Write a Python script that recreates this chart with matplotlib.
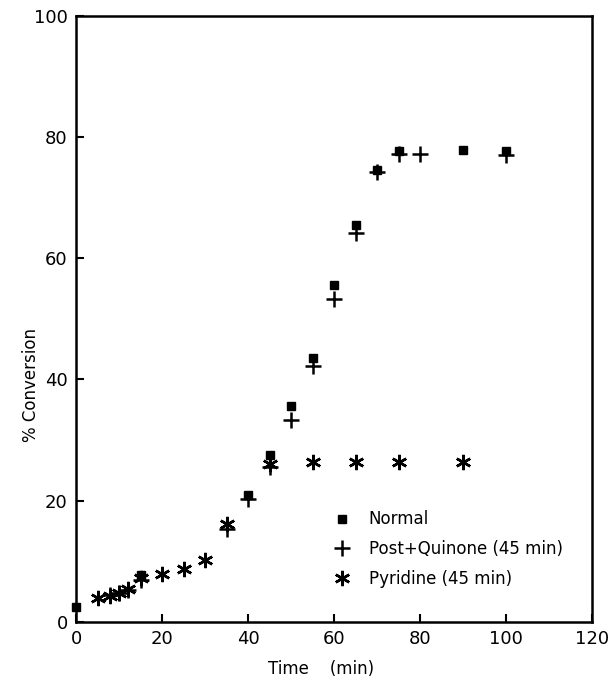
import numpy as np
import matplotlib
matplotlib.use("Agg")
import matplotlib.pyplot as plt

# data (time in min, % conversion)
normal_t = [0, 15, 40, 45, 50, 55, 60, 65, 70, 75, 90, 100]
normal_y = [2.5, 7.8, 21.0, 27.5, 35.7, 43.6, 55.6, 65.5, 74.5, 77.7, 77.8, 77.7]

quinone_t = [8, 10, 12, 15, 35, 40, 45, 50, 55, 60, 65, 70, 75, 80, 100]
quinone_y = [4.5, 4.8, 5.3, 7.0, 15.3, 20.3, 25.5, 33.3, 42.2, 53.2, 64.1, 74.2, 77.1, 77.1, 77.0]

pyridine_t = [5, 8, 10, 12, 15, 20, 25, 30, 35, 45, 55, 65, 75, 90]
pyridine_y = [4.0, 4.3, 4.8, 5.5, 7.3, 7.9, 8.8, 10.2, 16.1, 26.0, 26.4, 26.4, 26.4, 26.4]

x_ticks = [0, 20, 40, 60, 80, 100, 120]
y_ticks = [0, 20, 40, 60, 80, 100]

fig = plt.figure(figsize=(6.1, 6.81), dpi=100)
ax = fig.add_axes([0.1246, 0.0866, 0.8459, 0.8906])

ax.plot(normal_t, normal_y, linestyle="none", marker="s", markersize=5.5,
        color="black", label="Normal", clip_on=False, zorder=3)
ax.plot(quinone_t, quinone_y, linestyle="none", marker="+", markersize=12,
        markeredgewidth=1.8, color="black", label="Post+Quinone (45 min)")
ax.plot(pyridine_t, pyridine_y, linestyle="none", marker=(6, 2, 0), markersize=11,
        markeredgewidth=1.8, color="black", label="Pyridine (45 min)")

ax.set_xlim(0, 120)
ax.set_ylim(0, 100)
ax.set_xticks(x_ticks)
ax.set_yticks(y_ticks)
ax.tick_params(direction="in", length=6, width=1.5, labelsize=13, pad=6)
for s in ax.spines.values():
    s.set_linewidth(1.8)

ax.set_xlabel("Time    (min)", fontsize=12)
ax.set_ylabel("% Conversion", fontsize=12)
ax.xaxis.set_label_coords(0.475, -0.062)
ax.yaxis.set_label_coords(-0.07, 0.39)

ax.legend(loc="upper left", bbox_to_anchor=(0.47, 0.195), frameon=False,
          fontsize=12, handletextpad=0.6, labelspacing=0.7, borderaxespad=0)

fig.savefig("out.png", dpi=100)
